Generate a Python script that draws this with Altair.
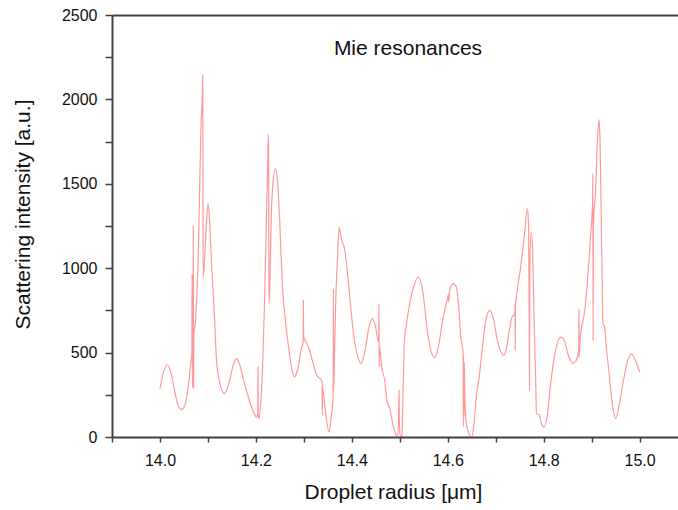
import altair as alt
import pandas as pd

# Droplet radius [µm]
radius = [
    14.000, 14.007, 14.0146, 14.022, 14.030, 14.037, 14.044, 14.051, 14.058, 14.064,
    14.0665, 14.0670, 14.0675, 14.0690, 14.0695, 14.0700, 14.0705, 14.0745, 14.0800, 14.0855,
    14.0880, 14.0892, 14.0896, 14.0900, 14.0930, 14.0965, 14.1005, 14.1040, 14.1080, 14.1130,
    14.1180, 14.1240, 14.1345, 14.1450, 14.1530, 14.1600, 14.1660, 14.1750, 14.1850, 14.1930,
    14.1990, 14.2000, 14.2040, 14.2045, 14.2050, 14.2065, 14.2100, 14.2140, 14.2180, 14.2210,
    14.2245, 14.2258, 14.2265, 14.2272, 14.2290, 14.2320, 14.2360, 14.2405, 14.2450, 14.2500,
    14.2550, 14.2620, 14.2690, 14.2750, 14.2800, 14.2870, 14.2955, 14.2985, 14.2990, 14.2995,
    14.3025, 14.3100, 14.3180, 14.3255, 14.3380, 14.3385, 14.3390, 14.3450, 14.3525, 14.3570,
    14.3610, 14.3615, 14.3620, 14.3640, 14.3665, 14.3700, 14.3735, 14.3765, 14.3800, 14.3840,
    14.3880, 14.3950, 14.4040, 14.4130, 14.4195, 14.4280, 14.4350, 14.4425, 14.4490, 14.4560,
    14.4565, 14.4570, 14.4575, 14.4620, 14.4685, 14.4740, 14.4790, 14.4860, 14.4925, 14.4950,
    14.4975, 14.4985, 14.4990, 14.5010, 14.5045, 14.5070, 14.5095, 14.5125, 14.5200, 14.5300,
    14.5390, 14.5480, 14.5570, 14.5660, 14.5730, 14.5800, 14.5900, 14.6000, 14.6015, 14.6020,
    14.6035, 14.6110, 14.6180, 14.6220, 14.6270, 14.6315, 14.6320, 14.6325, 14.6330, 14.6340,
    14.6345, 14.6360, 14.6400, 14.6500, 14.6540, 14.6600, 14.6655, 14.6730, 14.6800, 14.6875,
    14.6950, 14.7030, 14.7100, 14.7165, 14.7220, 14.7275, 14.7340, 14.7400, 14.7402, 14.7405,
    14.7410, 14.7450, 14.7520, 14.7600, 14.7660, 14.7685, 14.7700, 14.7705, 14.7710, 14.7740,
    14.7770, 14.7800, 14.7830, 14.7850, 14.7915, 14.7950, 14.8010, 14.8070, 14.8145, 14.8220,
    14.8355, 14.8430, 14.8520, 14.8610, 14.8670, 14.8720, 14.8730, 14.8735, 14.8740, 14.8755,
    14.8865, 14.8980, 14.9020, 14.9025, 14.9030, 14.9035, 14.9080, 14.9120, 14.9152, 14.9175,
    14.9200, 14.9220, 14.9235, 14.9270, 14.9300, 14.9350, 14.9420, 14.9500, 14.9580, 14.9675,
    14.9750, 14.9827, 14.9900, 15.0000,
]

# Scattering intensity [a.u.]
intensity = [
    287, 380, 428, 390, 280, 195, 162, 180, 280, 430,
    500, 968, 296, 360, 1254, 290, 600, 700, 1100, 1836,
    2000, 2143, 1700, 948, 1050, 1250, 1383, 1250, 1000, 750,
    450, 330, 257, 330, 430, 464, 430, 330, 230, 160,
    125, 118, 135, 415, 130, 110, 200, 420, 800, 1165,
    1600, 1793, 1698, 792, 900, 1300, 1520, 1590, 1520, 1250,
    909, 680, 514, 400, 355, 400, 533, 560, 810, 600,
    573, 530, 450, 375, 326, 129, 290, 150, 30, 120,
    237, 879, 267, 500, 810, 1050, 1244, 1200, 1155, 1126,
    1050, 850, 600, 470, 435, 520, 640, 701, 660, 560,
    790, 415, 540, 420, 336, 200, 170, 70, 10, 0,
    120, 277, 100, 0, 10, 300, 560, 640, 780, 900,
    948, 860, 640, 500, 470, 530, 700, 829, 845, 800,
    860, 909, 889, 800, 600, 514, 500, 60, 480, 120,
    440, 200, 60, 0, 60, 250, 355, 550, 700, 750,
    700, 580, 510, 484, 520, 620, 711, 730, 790, 514,
    760, 870, 1007, 1200, 1353, 1250, 600, 277, 1000, 1215,
    1100, 700, 375, 139, 129, 80, 59, 120, 316, 470,
    592, 570, 480, 435, 450, 494, 520, 760, 474, 560,
    770, 1205, 1400, 1560, 573, 1250, 1450, 1750, 1880, 1750,
    1300, 900, 672, 652, 550, 415, 220, 109, 200, 355,
    450, 494, 460, 385,
]

x_ticks = [13.9, 14.0, 14.1, 14.2, 14.3, 14.4, 14.5, 14.6, 14.7, 14.8, 14.9, 15.0]
y_ticks = [0, 250, 500, 750, 1000, 1250, 1500, 1750, 2000, 2250, 2500]
x_title = "Droplet radius [μm]"
y_title = "Scattering intensity [a.u.]"
annotation = ["Mie resonances"]

df = pd.DataFrame({"r": radius, "I": intensity, "i": list(range(len(radius)))})

FONT = "Liberation Sans"
AXC = "#404040"

xscale = alt.Scale(domain=[13.9, 15.08], nice=False, zero=False)
yscale = alt.Scale(domain=[0, 2500], nice=False)

x_axis = alt.Axis(
    values=x_ticks,
    labelExpr="(round(datum.value*10) % 2 === 0) ? format(datum.value, '.1f') : ''",
    ticks=True, tickSize=5,
    tickColor=AXC, tickWidth=1.5,
    domainColor=AXC, domainWidth=2,
    labelFont=FONT, labelFontSize=16, labelColor="#111", labelPadding=10,
    labelFlush=False,
    title=x_title, titleFont=FONT, titleFontSize=21, titleFontWeight="normal",
    titleColor="#111", titleX=281, titleY=61, titleBaseline="alphabetic",
    titleAlign="center", grid=False,
)

y_axis = alt.Axis(
    values=y_ticks,
    labelExpr="datum.value % 500 === 0 ? format(datum.value, 'd') : ''",
    ticks=True, tickSize=7,
    tickColor=AXC, tickWidth=1.5,
    domainColor=AXC, domainWidth=2,
    labelFont=FONT, labelFontSize=16, labelColor="#111", labelPadding=8,
    labelFlush=False, labelBaseline="middle",
    title=y_title, titleFont=FONT, titleFontSize=21, titleFontWeight="normal",
    titleColor="#111", titleX=-89, titleY=199, titleBaseline="middle",
    titleAlign="center", titleAngle=270, grid=False,
)

line = alt.Chart(df).mark_line(
    color="#ff4646", strokeWidth=1.2, opacity=0.55, interpolate="monotone"
).encode(
    x=alt.X("r:Q", scale=xscale, axis=x_axis),
    y=alt.Y("I:Q", scale=yscale, axis=y_axis),
    order=alt.Order("i:Q"),
)

top = alt.Chart(df).mark_point(opacity=0).encode(
    x=alt.X("r:Q", scale=xscale,
            axis=alt.Axis(orient="top", labels=False, ticks=False, title=None,
                          domainColor=AXC, domainWidth=2, grid=False)),
    y=alt.Y("I:Q", scale=yscale, axis=y_axis),
)

label = alt.Chart(pd.DataFrame({"t": annotation})).mark_text(
    font=FONT, fontSize=21, color="#111", align="center", baseline="alphabetic"
).encode(
    text="t:N",
    x=alt.value(296),
    y=alt.value(40),
)

chart = alt.layer(line, top, label).resolve_axis(x="independent").properties(
    width=566,
    height=422,
    padding={"left": 112, "top": 15, "right": 0, "bottom": 73},
    autosize=alt.AutoSizeParams(type="none"),
    background="white",
).configure_view(stroke=None)

chart.save("out.html", embed_options={"renderer": "svg", "actions": False})
